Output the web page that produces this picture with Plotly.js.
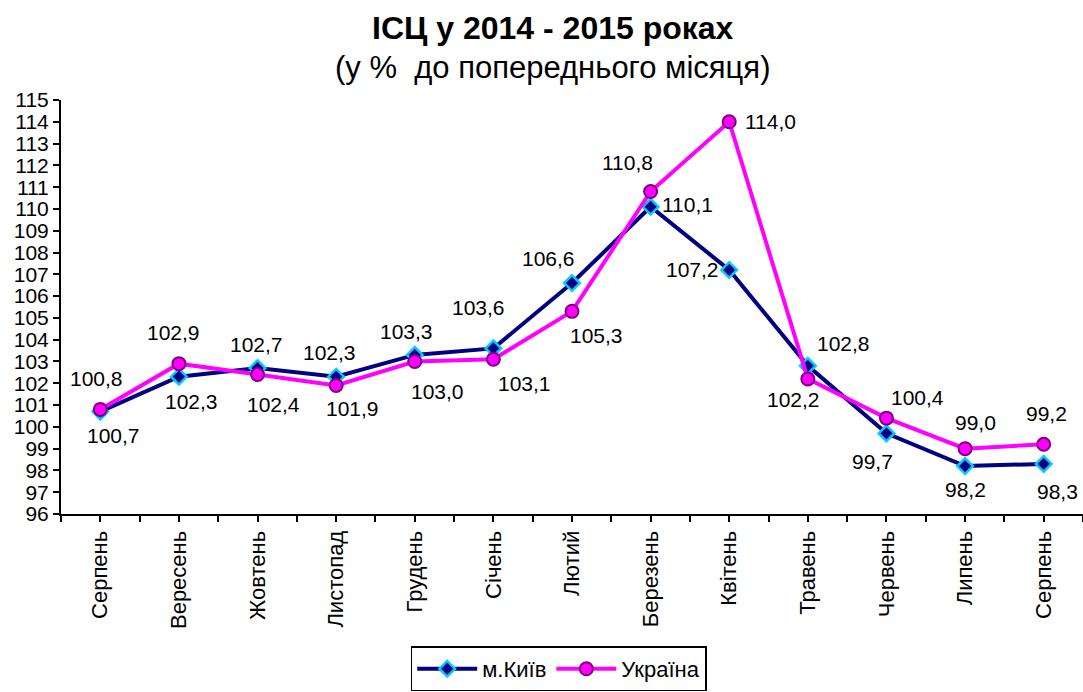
<!DOCTYPE html>
<html>
<head>
<meta charset="utf-8">
<script src="https://cdn.plot.ly/plotly-3.0.1.min.js"></script>
<style>html,body{margin:0;padding:0;background:#fff;}#chart{width:1083px;height:692px;}</style>
</head>
<body>
<div id="chart"></div>
<script>
const months = ["Серпень","Вересень","Жовтень","Листопад","Грудень","Січень","Лютий","Березень","Квітень","Травень","Червень","Липень","Серпень"];
const kyiv = [100.7, 102.3, 102.7, 102.3, 103.3, 103.6, 106.6, 110.1, 107.2, 102.8, 99.7, 98.2, 98.3];
const ukraine = [100.8, 102.9, 102.4, 101.9, 103.0, 103.1, 105.3, 110.8, 114.0, 102.2, 100.4, 99.0, 99.2];

// label offsets in pixels [dx, dy] (dy positive = downwards)
const kyivLabelOffset = [[13,24],[13,25],[-1,-24],[-7,-24],[-8,-23],[-15,-41],[-24,-25],[37,-2],[-37,0],[36,-22],[-14,28],[0,23],[14,28]];
const ukrLabelOffset = [[-4,-31],[-5,-31],[16,30],[16,23],[23,30],[31,24],[24,24],[-23,-29],[41,0],[-14,21],[31,-21],[10,-26],[3,-31]];

const fmt = v => v.toFixed(1).replace('.', ',');
const idx = months.map((m, i) => i);
const FONT = 'Arial, "Liberation Sans", sans-serif';

const tickvals = [], ticktext = [];
for (let i = 0; i < months.length; i++) {
  tickvals.push(i - 0.5); ticktext.push('');
  tickvals.push(i); ticktext.push(months[i]);
}
tickvals.push(months.length - 0.5); ticktext.push('');

const traces = [
  {
    x: idx, y: kyiv, name: 'м.Київ', type: 'scatter', mode: 'lines+markers',
    line: {color: '#000080', width: 4},
    marker: {symbol: 'diamond', size: 12, color: '#000080', line: {color: '#00CCFF', width: 2.5}},
    cliponaxis: false
  },
  {
    x: idx, y: ukraine, name: 'Україна', type: 'scatter', mode: 'lines+markers',
    line: {color: '#FF00FF', width: 4},
    marker: {symbol: 'circle', size: 13, color: '#FF00FF', line: {color: '#800080', width: 2}},
    cliponaxis: false
  }
];

function labels(values, offsets) {
  return values.map((v, i) => ({
    x: i, y: v, xref: 'x', yref: 'y', text: fmt(v), showarrow: false,
    xanchor: 'center', yanchor: 'middle',
    xshift: offsets[i][0], yshift: -offsets[i][1],
    font: {family: FONT, size: 21, color: '#000'}
  }));
}

const layout = {
  width: 1083, height: 692,
  margin: {l: 61, r: 0, t: 100, b: 169},
  paper_bgcolor: '#fff', plot_bgcolor: '#fff',
  font: {family: FONT, size: 21, color: '#000'},
  showlegend: true,
  legend: {
    orientation: 'h', x: 0.487, xanchor: 'center', y: -0.32, yanchor: 'top',
    bordercolor: '#000', borderwidth: 1.5, bgcolor: '#fff', itemwidth: 60,
    font: {family: FONT, size: 22, color: '#000'}
  },
  xaxis: {
    range: [-0.5, months.length - 0.5], tickmode: 'array', tickvals: tickvals, ticktext: ticktext,
    tickangle: -90, ticks: 'outside', ticklen: 6, tickwidth: 2, tickcolor: '#000',
    showline: true, linecolor: '#000', linewidth: 2, showgrid: false, zeroline: false,
    tickfont: {family: FONT, size: 22, color: '#000'}, fixedrange: true
  },
  yaxis: {
    range: [96, 115], dtick: 1, tick0: 96, ticks: 'outside', ticklen: 6, tickwidth: 2, tickcolor: '#000',
    showline: true, linecolor: '#000', linewidth: 2, showgrid: false, zeroline: false,
    tickfont: {family: FONT, size: 21, color: '#000'}, fixedrange: true
  },
  annotations: [
    {text: '<b>ІСЦ у 2014 - 2015 роках</b>', xref: 'paper', yref: 'paper', x: 0.481, y: 1.175,
     xanchor: 'center', yanchor: 'middle', showarrow: false, font: {family: FONT, size: 32, color: '#000'}},
    {text: '(у %\u00a0 до попереднього місяця)', xref: 'paper', yref: 'paper', x: 0.481, y: 1.078,
     xanchor: 'center', yanchor: 'middle', showarrow: false, font: {family: FONT, size: 31, color: '#000'}}
  ].concat(labels(kyiv, kyivLabelOffset), labels(ukraine, ukrLabelOffset))
};

Plotly.newPlot('chart', traces, layout, {displayModeBar: false, staticPlot: true});
</script>
</body>
</html>
